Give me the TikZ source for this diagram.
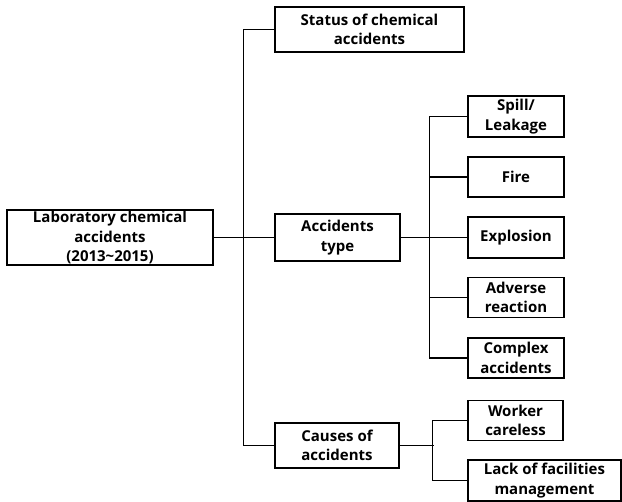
\documentclass[tikz,border=0pt]{standalone}
\usepackage{fontspec}
\setmainfont{Open Sans}
\begin{document}
\begin{tikzpicture}[x=1pt,y=-1pt,
  box/.style={draw,line width=1.3pt,align=center,inner sep=1pt,font=\fontsize{15}{19.5}\selectfont\bfseries},
  conn/.style={line width=1.3pt}]
\useasboundingbox (0,0) rectangle (622,502);
\node[box,minimum width=206pt,minimum height=55pt] (root) at (110,237.5) {Laboratory chemical\\accidents\\(2013\textasciitilde 2015)};
\node[box,minimum width=189pt,minimum height=45pt] (status) at (369.5,29.5) {Status of chemical\\accidents};
\node[box,minimum width=125pt,minimum height=47pt] (type) at (337.5,237.5) {Accidents\\type};
\node[box,minimum width=124pt,minimum height=45pt] (causes) at (337,445.5) {Causes of\\accidents};
\node[box,minimum width=96pt,minimum height=41pt] (spill) at (516,116.5) {Spill/\\Leakage};
\node[box,minimum width=96pt,minimum height=40pt] (fire) at (516,177) {Fire};
\node[box,minimum width=96pt,minimum height=41pt] (explosion) at (516,237.5) {Explosion};
\node[box,minimum width=96pt,minimum height=40pt] (adverse) at (516,297.5) {Adverse\\reaction};
\node[box,minimum width=96pt,minimum height=40pt] (complex) at (516,358) {Complex\\accidents};
\node[box,minimum width=95pt,minimum height=40pt] (worker) at (515.5,420.5) {Worker\\careless};
\node[box,minimum width=153pt,minimum height=41pt] (lack) at (544.5,480.5) {Lack of facilities\\management};
\draw[conn] (status.west) -- ++(-31,0) |- (causes.west);
\draw[conn] (root.east) -- (type.west);
\draw[conn] (spill.west) -- ++(-38,0) |- (complex.west);
\draw[conn] (type.east) -- (explosion.west);
\draw[conn] (fire.west) -- ++(-38,0);
\draw[conn] (adverse.west) -- ++(-38,0);
\draw[conn] (worker.west) -- ++(-35,0) |- (lack.west);
\draw[conn] (causes.east) -- ++(34,0);
\end{tikzpicture}
\end{document}
